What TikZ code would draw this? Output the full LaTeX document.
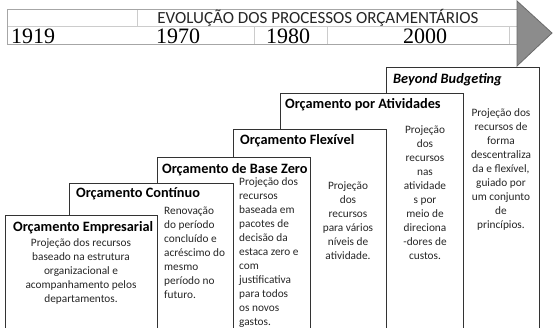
\documentclass[tikz,border=0pt]{standalone}
\usepackage{fontspec}
\setmainfont{Carlito}
\newfontfamily\yearfont{Liberation Serif}
\begin{document}
\begin{tikzpicture}[x=1pt,y=-1pt,
  stepbox/.style={draw=black!80, fill=white, line width=0.8pt},
  boxtitle/.style={font=\fontsize{14.3}{16}\selectfont\bfseries, anchor=west, inner sep=0},
  bodytext/.style={font=\fontsize{11.3}{14}\selectfont, inner sep=0, text=black!85},
  tline/.style={draw=black!20, line width=0.7pt},
  tborder/.style={draw=black!35, line width=0.7pt},
  year/.style={font=\yearfont\fontsize{22}{22}\selectfont, inner sep=0},
  arrowshape/.style={fill=black!45, draw=black!58, line width=0.8pt}]
\clip (0,0) rectangle (554,327);
\fill[white] (0,0) rectangle (554,327);
% timeline table
\draw[tline] (7,26) -- (517,26);
\draw[tline] (137,9) -- (137,26);
\draw[tline] (254,26) -- (254,44);
\draw[tline] (327,26) -- (327,44);
\draw[tline] (509,26) -- (509,44);
\draw[tborder] (7,9) rectangle (517,44);
\node[font=\fontsize{17}{18}\selectfont, inner sep=0, text=black!85] (head) at (318,18) {EVOLUÇÃO DOS PROCESSOS ORÇAMENTÁRIOS};
\node[year, anchor=west] (y1919) at (11,36) {1919};
\node[year] (y1970) at (178,36) {1970};
\node[year] (y1980) at (288,36) {1980};
\node[year] (y2000) at (425,36) {2000};
\draw[arrowshape] (517,1) -- (552,33) -- (517,66) -- cycle;
% steps, back to front
\path[stepbox] (386,67) rectangle (539,340);
\node[boxtitle, font=\fontsize{14.3}{16}\selectfont\bfseries\itshape] (t6) at (393,80) {Beyond Budgeting};
\node[bodytext, anchor=north, align=center] (b6) at (501,108) {Projeção dos\\recursos de\\forma\\descentraliza\\da e flexível,\\guiado por\\um conjunto\\de\\princípios.};
\path[stepbox] (280,93) rectangle (463,340);
\node[boxtitle] (t5) at (285,105) {Orçamento por Atividades};
\node[bodytext, anchor=north, align=center] (b5) at (425,126) {Projeção\\dos\\recursos\\nas\\atividade\\s por\\meio de\\direciona\\-dores de\\custos.};
\path[stepbox] (233,129) rectangle (386,340);
\node[boxtitle] (t4) at (240,141) {Orçamento Flexível};
\node[bodytext, anchor=north, align=center] (b4) at (348,182) {Projeção\\dos\\recursos\\para vários\\níveis de\\atividade.};
\path[stepbox] (157,157) rectangle (310,340);
\node[boxtitle] (t3) at (162,170) {Orçamento de Base Zero};
\node[bodytext, anchor=north west, align=left] (b3) at (239,177) {Projeção dos\\recursos\\baseada em\\pacotes de\\decisão da\\estaca zero e\\com\\justificativa\\para todos\\os novos\\gastos.};
\path[stepbox] (69,183) rectangle (233,340);
\node[boxtitle] (t2) at (76,194) {Orçamento Contínuo};
\node[bodytext, anchor=north west, align=left] (b2) at (164,207) {Renovação\\do período\\concluído e\\acréscimo do\\mesmo\\período no\\futuro.};
\path[stepbox] (5,215) rectangle (157,340);
\node[boxtitle] (t1) at (13,228) {Orçamento Empresarial};
\node[bodytext, anchor=north, align=center] (b1) at (81,238) {Projeção dos recursos\\baseado na estrutura\\organizacional e\\acompanhamento pelos\\departamentos.};
\end{tikzpicture}
\end{document}
